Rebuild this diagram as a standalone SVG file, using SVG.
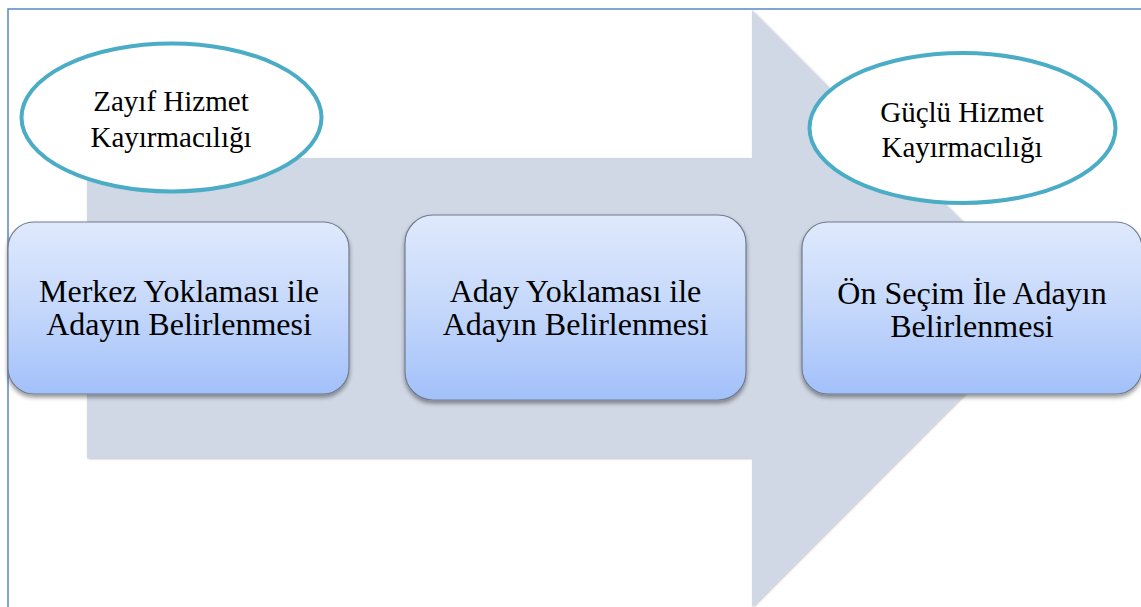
<svg xmlns="http://www.w3.org/2000/svg" width="1141" height="607" viewBox="0 0 1141 607">
  <style>
    .frame { fill: #ffffff; stroke: #5B86C4; stroke-width: 1.5; }
    .arrow { fill: #D0D7E5; }
    .box { fill: url(#boxGrad); stroke: #707C8C; stroke-width: 1.2; }
    .oval { fill: #ffffff; stroke: #4BACC6; stroke-width: 4; }
    .lbl { font-family: "Liberation Serif", "Times New Roman", serif; fill: #000000; text-anchor: middle; }
    .big { font-size: 32px; }
    .small { font-size: 29px; }
  </style>
  <defs>
    <linearGradient id="boxGrad" x1="0" y1="0" x2="0" y2="1">
      <stop offset="0" stop-color="#DFE9FC"/>
      <stop offset="0.5" stop-color="#C5D8FB"/>
      <stop offset="1" stop-color="#A2C0FA"/>
    </linearGradient>
    <filter id="boxShadow" x="-10%" y="-10%" width="120%" height="130%">
      <feDropShadow dx="0" dy="3" stdDeviation="2" flood-color="#000000" flood-opacity="0.4"/>
    </filter>
    <filter id="arrowShadow" x="-5%" y="-5%" width="110%" height="110%">
      <feDropShadow dx="1" dy="1" stdDeviation="1" flood-color="#000000" flood-opacity="0.25"/>
    </filter>
  </defs>

  <!-- outer frame -->
  <rect class="frame" x="8" y="9" width="1142" height="610"/>

  <!-- background process arrow -->
  <g id="process-arrow">
    <path class="arrow" filter="url(#arrowShadow)" d="M87,158 L752,158 L752,10 L1050,308.5 L752,607 L752,458 L87,458 Z"/>
  </g>

  <!-- step boxes -->
  <g id="step-merkez">
    <rect class="box" filter="url(#boxShadow)" x="8" y="222" width="341" height="172" rx="26"/>
    <text class="lbl big" x="179" y="302">Merkez Yoklaması ile</text>
    <text class="lbl big" x="179" y="335">Adayın Belirlenmesi</text>
  </g>

  <g id="step-aday">
    <rect class="box" filter="url(#boxShadow)" x="405" y="215" width="341" height="185" rx="28"/>
    <text class="lbl big" x="575.5" y="302">Aday Yoklaması ile</text>
    <text class="lbl big" x="575.5" y="335">Adayın Belirlenmesi</text>
  </g>

  <g id="step-onsecim">
    <rect class="box" filter="url(#boxShadow)" x="802" y="222" width="340" height="172" rx="26"/>
    <text class="lbl big" x="972" y="304">Ön Seçim İle Adayın</text>
    <text class="lbl big" x="972" y="337">Belirlenmesi</text>
  </g>

  <!-- endpoint ovals -->
  <g id="oval-zayif">
    <ellipse class="oval" cx="171.5" cy="117.5" rx="150" ry="74"/>
    <text class="lbl small" x="171" y="111">Zayıf Hizmet</text>
    <text class="lbl small" x="171" y="147">Kayırmacılığı</text>
  </g>

  <g id="oval-guclu">
    <ellipse class="oval" cx="962.5" cy="128" rx="153" ry="75"/>
    <text class="lbl small" x="962" y="122">Güçlü Hizmet</text>
    <text class="lbl small" x="962" y="157">Kayırmacılığı</text>
  </g>

  <!-- connectors: flow is carried by the background arrow -->
  <g id="connectors"/>
</svg>
